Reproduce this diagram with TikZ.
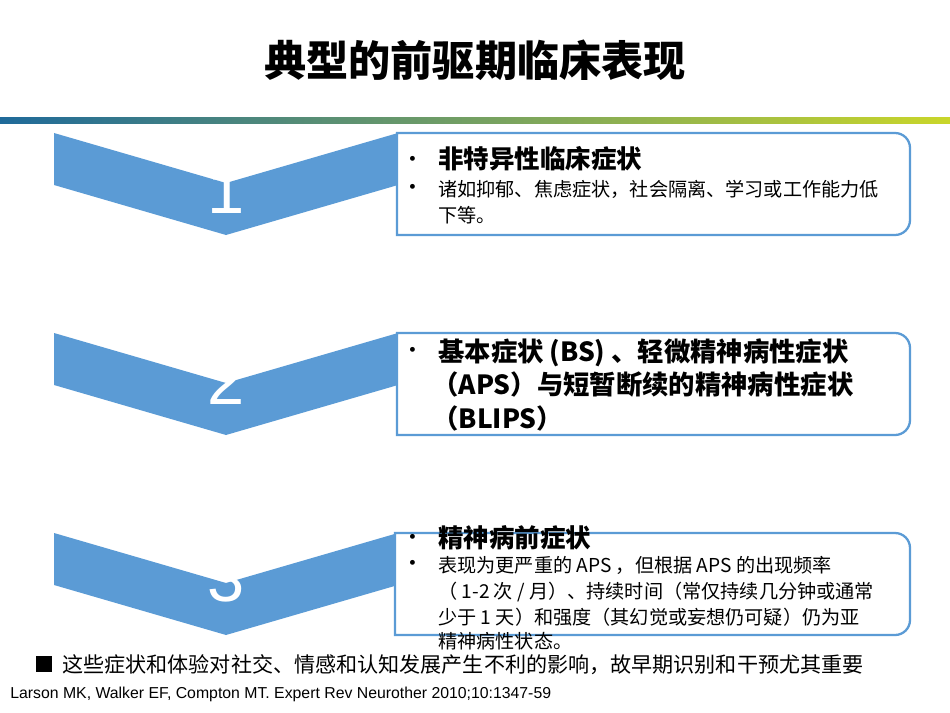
\documentclass[tikz,border=0pt]{standalone}
\usepackage{fontspec}
\setmainfont{Noto Sans CJK SC}
\newfontfamily\latfont{Liberation Sans}
\usetikzlibrary{calc}
\definecolor{chev}{HTML}{5B9BD5}
\definecolor{lineA}{HTML}{1F6A9A}
\definecolor{lineB}{HTML}{C9D62A}
\begin{document}
\begin{tikzpicture}[x=0.02cm,y=-0.02cm]
	\tikzstyle{chevron} = [fill = chev]
	\tikzstyle{box} = [draw = chev, line width = 1.3pt, fill = white]
	\tikzstyle{num} = [text = white, anchor = base, inner sep = 0, font = \latfont\fontsize{38}{38}\selectfont]
	\tikzstyle{head} = [anchor = base west, inner sep = 0, font = \fontsize{14.5}{14.5}\selectfont\bfseries]
	\tikzstyle{body} = [anchor = base west, inner sep = 0, font = \fontsize{10.9}{10.9}\selectfont]
	\tikzstyle{dot} = [anchor = base, inner sep = 0, font = \fontsize{13}{13}\selectfont]
	\useasboundingbox (0,0) rectangle (950,713);
	\node(title) at (475,60) {\fontsize{24}{24}\selectfont\bfseries 典型的前驱期临床表现};
	\shade[left color = lineA, right color = lineB] (0,118) rectangle (950,124);
	\foreach \y/\n/\b in {133/1/80, 333/2/71, 533/3/68} {
		\fill[chevron] (54,\y) -- (226,\y+50) -- (398,\y) -- (398,\y+52) -- (226,\y+102) -- (54,\y+52) -- cycle;
		\node(n\n)[num] at (226,\y+\b) {\n};
	}
	% boxes
	\draw[box] (397,133) -- (895,133) arc (-90:0:15) -- (910,220) arc (0:90:15) -- (397,235) -- cycle;
	\draw[box] (397,333) -- (895,333) arc (-90:0:15) -- (910,420) arc (0:90:15) -- (397,435) -- cycle;
	\draw[box] (395,533) -- (895,533) arc (-90:0:15) -- (910,620) arc (0:90:15) -- (395,635) -- cycle;
	% box 1
	\node(b1)[dot] at (413,168) {•};
	\node(h1)[head] at (438,169) {非特异性临床症状};
	\node(d1)[dot] at (413,195) {•};
	\node(t1a)[body] at (438,196) {诸如抑郁、焦虑症状，社会隔离、学习或工作能力低};
	\node(t1b)[body] at (438,222) {下等。};
	% box 2
	\node(b2)[dot] at (413,358) {•};
	\node(h2a)[head, font = \fontsize{15}{15}\selectfont\bfseries] at (438,361) {基本症状 (BS) 、轻微精神病性症状};
	\node(h2b)[head, font = \fontsize{15}{15}\selectfont\bfseries] at (432,394) {（APS）与短暂断续的精神病性症状};
	\node(h2c)[head, font = \fontsize{15}{15}\selectfont\bfseries] at (432,428) {（BLIPS）};
	% box 3
	\node(b3)[dot] at (413,545) {•};
	\node(h3)[head] at (438,547) {精神病前症状};
	\node(d3)[dot] at (413,571) {•};
	\node(t3a)[body] at (438,572) {表现为更严重的 APS ，但根据 APS 的出现频率};
	\node(t3b)[body] at (438,598) {（ 1-2 次 / 月）、持续时间（常仅持续几分钟或通常};
	\node(t3c)[body] at (438,624) {少于 1 天）和强度（其幻觉或妄想仍可疑）仍为亚};
	\node(t3d)[body] at (438,648) {精神病性状态。};
	% footer
	\node(sq)[fill = black, minimum size = 9, inner sep = 0] at (44,664) {};
	\node(note)[body, font = \fontsize{12}{12}\selectfont] at (62,672) {这些症状和体验对社交、情感和认知发展产生不利的影响，故早期识别和干预尤其重要};
	\node(cite)[body, font = \latfont\fontsize{9}{9}\selectfont] at (10,698) {Larson MK, Walker EF, Compton MT. Expert Rev Neurother 2010;10:1347-59};
\end{tikzpicture}
\end{document}
